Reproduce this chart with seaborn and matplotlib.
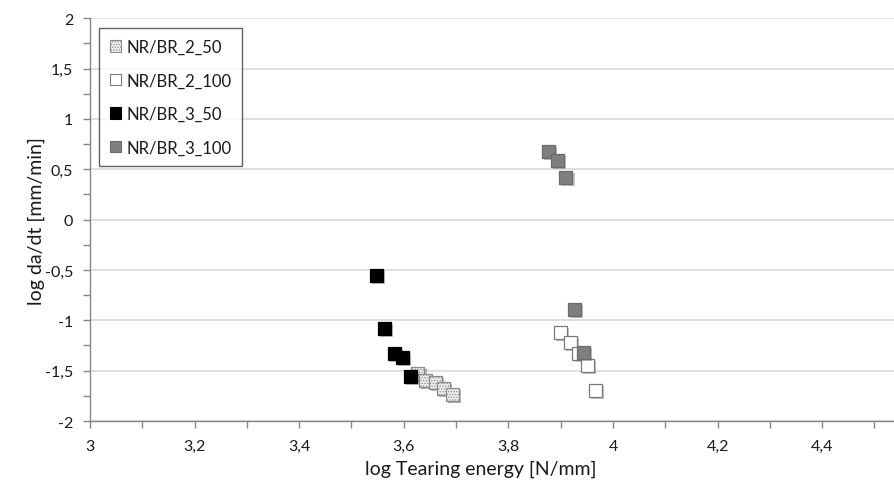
import matplotlib
matplotlib.use("Agg")
import matplotlib.pyplot as plt
import matplotlib.patheffects as pe
from matplotlib.patches import Patch
from matplotlib.ticker import MultipleLocator, FuncFormatter
import seaborn as sns
import pandas as pd

# Crack growth rate vs tearing energy for four compounds
series_names = ["NR/BR_2_50", "NR/BR_2_100", "NR/BR_3_50", "NR/BR_3_100"]

x_2_50 = [3.627, 3.642, 3.660, 3.676, 3.693]
y_2_50 = [-1.53, -1.60, -1.615, -1.675, -1.74]

x_2_100 = [3.900, 3.918, 3.935, 3.951, 3.967]
y_2_100 = [-1.12, -1.22, -1.33, -1.45, -1.70]

x_3_50 = [3.547, 3.563, 3.582, 3.597, 3.613]
y_3_50 = [-0.555, -1.085, -1.33, -1.37, -1.555]

x_3_100 = [3.876, 3.894, 3.910, 3.927, 3.943]
y_3_100 = [0.675, 0.59, 0.42, -0.89, -1.315]

xs = [x_2_50, x_2_100, x_3_50, x_3_100]
ys = [y_2_50, y_2_100, y_3_50, y_3_100]

faces = ["#ececec", "#ffffff", "#000000", "#7f7f7f"]
edges = ["#8c8c8c", "#7a7a7a", "#000000", "#6b6b6b"]
hatches = ["......", None, None, None]

sns.set_theme(style="white")
plt.rcParams["font.family"] = ["Lato", "DejaVu Sans"]
plt.rcParams["hatch.linewidth"] = 0.6

fig = plt.figure(figsize=(8.95, 4.89), dpi=100)
ax = fig.add_axes([90 / 895, 1 - 422 / 489, 805 / 895, (422 - 19.3) / 489])

shadow = [pe.SimplePatchShadow(offset=(1.5, -1.5), alpha=0.35, shadow_rgbFace="#555555"), pe.Normal()]

for name, xv, yv, fc, ec, h in zip(series_names, xs, ys, faces, edges, hatches):
    df = pd.DataFrame({"x": xv, "y": yv})
    sns.scatterplot(data=df, x="x", y="y", marker="s", s=88, color=fc,
                    edgecolor=ec, linewidth=0.9, ax=ax, legend=False, zorder=3)
    coll = ax.collections[-1]
    if h:
        coll.set_hatch(h)
    coll.set_path_effects(shadow)

ax.set_xlim(3, 3 + 805 / 523)
ax.set_ylim(-2, 2)

comma = FuncFormatter(lambda v, p: f"{v:g}".replace(".", ","))
ax.xaxis.set_major_locator(MultipleLocator(0.2))
ax.xaxis.set_minor_locator(MultipleLocator(0.1))
ax.yaxis.set_major_locator(MultipleLocator(0.5))
ax.yaxis.set_minor_locator(MultipleLocator(0.25))
ax.xaxis.set_major_formatter(comma)
ax.yaxis.set_major_formatter(comma)

ax.grid(axis="y", which="major", color="#d9d9d9", linewidth=1.2, zorder=0)
ax.grid(axis="x", visible=False)
ax.set_axisbelow(True)

for side in ["top", "right"]:
    ax.spines[side].set_visible(False)
for side in ["left", "bottom"]:
    ax.spines[side].set_color("#868686")
    ax.spines[side].set_linewidth(1.0)

ax.tick_params(axis="both", which="both", direction="out", color="#868686",
               labelsize=11.5, labelcolor="#1a1a1a", bottom=True, left=True)
ax.tick_params(axis="both", which="major", length=5, width=1)
ax.tick_params(axis="both", which="minor", length=5, width=1)
ax.tick_params(axis="x", which="major", pad=8)
ax.tick_params(axis="y", which="major", pad=7)

ax.set_xlabel("log Tearing energy [N/mm]", fontsize=14, color="#1a1a1a")
ax.set_ylabel("log da/dt [mm/min]", fontsize=14, color="#1a1a1a")
ax.xaxis.set_label_coords(0.485, -0.095)
ax.yaxis.set_label_coords(-0.056, 0.5)

handles = [Patch(facecolor=fc, edgecolor=ec, hatch=h, linewidth=0.8, label=n)
           for n, fc, ec, h in zip(series_names, faces, edges, hatches)]
leg = ax.legend(handles=handles, loc="upper left", bbox_to_anchor=(0.011, 0.976),
                borderaxespad=0, frameon=True, fancybox=False, fontsize=12,
                handlelength=0.7, handleheight=0.7, handletextpad=0.3,
                labelspacing=1.05, borderpad=0.65, edgecolor="#3a3a3a")
leg.get_frame().set_linewidth(1.0)
for t in leg.get_texts():
    t.set_color("#1a1a1a")

fig.savefig("out.png", dpi=100)
